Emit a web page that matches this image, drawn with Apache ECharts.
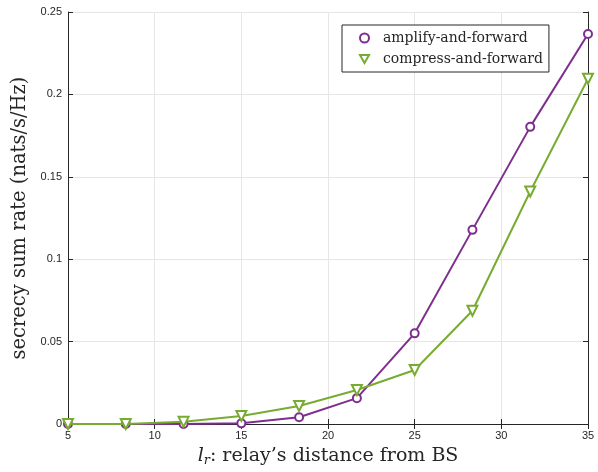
<!DOCTYPE html>
<html>
<head>
<meta charset="utf-8">
<script src="https://cdn.jsdelivr.net/npm/echarts@6/dist/echarts.min.js"></script>
<style>
  html, body { margin: 0; padding: 0; background: #fff; }
  #chart { width: 598px; height: 472px; }
</style>
</head>
<body>
<div id="chart"></div>
<script>
// relay distance l_r
var distances = [5, 8.333, 11.667, 15, 18.333, 21.667, 25, 28.333, 31.667, 35]
var amplifyForward = [0, 0, 0, 0.0004, 0.0041, 0.0157, 0.055, 0.1178, 0.1803, 0.2367]
var compressForward = [0, 0, 0.0013, 0.0049, 0.0109, 0.0206, 0.0328, 0.0687, 0.1411, 0.2095]
var seriesNames = ['amplify-and-forward', 'compress-and-forward']

var purple = '#7E2F8E'
var green = '#77AC30'
var axisColor = '#262626'
var serif = 'DejaVu Serif'
var sans = 'Liberation Sans'

function pairs(ys) {
  return distances.map(function (x, i) { return [x, ys[i]] })
}

var chart = echarts.init(document.getElementById('chart'))

var tickStyle = { show: true, inside: true, length: 5, lineStyle: { color: axisColor, width: 1 } }
var lineStyle = { show: true, lineStyle: { color: axisColor, width: 1 } }

chart.setOption({
  backgroundColor: '#fff',
  animation: false,
  grid: { left: 68, right: 10, top: 12, bottom: 48 },
  legend: {
    orient: 'vertical',
    left: 342,
    top: 25,
    padding: [6, 6, 6, 17],
    itemGap: 7,
    itemWidth: 9,
    itemHeight: 9,
    backgroundColor: '#fff',
    borderColor: axisColor,
    borderWidth: 1,
    textStyle: { fontFamily: serif, fontSize: 14, color: axisColor, padding: [0, 0, 0, 9] },
    data: [{
      name: seriesNames[0],
      icon: 'circle',
      itemStyle: { color: '#fff', borderColor: purple, borderWidth: 2 }
    }, {
      name: seriesNames[1],
      icon: 'path://M0,0L10,0L5,8.66Z',
      itemStyle: { color: '#fff', borderColor: green, borderWidth: 2 }
    }]
  },
  xAxis: [{
    type: 'value',
    min: 5, max: 35, interval: 5,
    name: '{i|l}{sub|r}: relay\u2019s distance from BS',
    nameLocation: 'middle',
    nameGap: 21,
    nameTextStyle: {
      fontFamily: serif, fontSize: 19, color: axisColor,
      rich: {
        i: { fontFamily: serif, fontStyle: 'italic', fontSize: 19, color: axisColor },
        sub: { fontFamily: serif, fontStyle: 'italic', fontSize: 13, color: axisColor, verticalAlign: 'bottom', padding: [9, 0, 0, 0] }
      }
    },
    axisLine: lineStyle,
    axisTick: tickStyle,
    axisLabel: { fontFamily: sans, fontSize: 11, color: axisColor, margin: 6 },
    splitLine: { show: true, lineStyle: { color: '#e6e6e6', width: 1 } }
  }, {
    type: 'value', position: 'top',
    min: 5, max: 35, interval: 5,
    axisLine: lineStyle,
    axisTick: tickStyle,
    axisLabel: { show: false },
    splitLine: { show: false }
  }],
  yAxis: [{
    type: 'value',
    min: 0, max: 0.25, interval: 0.05,
    name: 'secrecy sum rate (nats/s/Hz)',
    nameLocation: 'middle',
    nameGap: 34,
    nameTextStyle: { fontFamily: serif, fontSize: 19.5, color: axisColor },
    axisLine: lineStyle,
    axisTick: tickStyle,
    axisLabel: { fontFamily: sans, fontSize: 11, color: axisColor, margin: 6 },
    splitLine: { show: true, lineStyle: { color: '#e6e6e6', width: 1 } }
  }, {
    type: 'value', position: 'right',
    min: 0, max: 0.25, interval: 0.05,
    axisLine: lineStyle,
    axisTick: tickStyle,
    axisLabel: { show: false },
    splitLine: { show: false }
  }],
  series: [{
    name: seriesNames[0],
    type: 'line',
    data: pairs(amplifyForward),
    symbol: 'emptyCircle',
    symbolSize: 8,
    lineStyle: { color: purple, width: 2 },
    itemStyle: { color: purple, borderColor: purple, borderWidth: 2 },
    z: 3
  }, {
    name: seriesNames[1],
    type: 'line',
    data: pairs(compressForward),
    symbol: 'triangle',
    symbolRotate: 180,
    symbolSize: 10,
    lineStyle: { color: green, width: 2 },
    itemStyle: { color: '#fff', borderColor: green, borderWidth: 2 },
    z: 4
  }]
})
</script>
</body>
</html>
